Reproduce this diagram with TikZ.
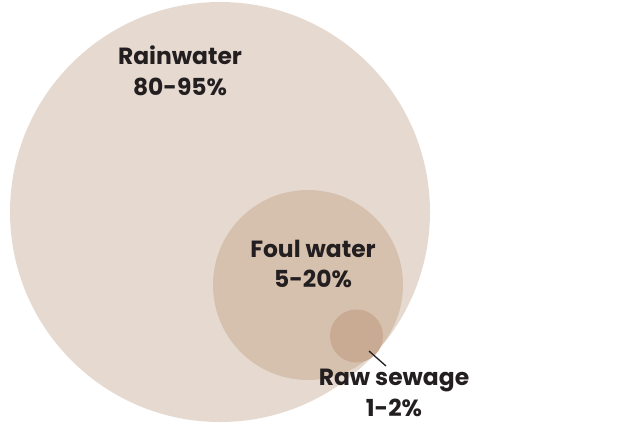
\documentclass[tikz,border=0pt]{standalone}
\usepackage{fontspec}
\setmainfont{Poppins}[BoldFont={Poppins Bold}]
\begin{document}
\begin{tikzpicture}[x=1bp,y=-1bp,
  lbl/.style={font=\bfseries\fontsize{23.5}{31}\selectfont, text=txt, align=center, inner sep=0pt},
  blob/.style={circle, inner sep=0pt, draw=none}]
\definecolor{c1}{HTML}{E6DAD0}
\definecolor{c2}{HTML}{D6C0AE}
\definecolor{c3}{HTML}{C9AB93}
\definecolor{txt}{HTML}{231F20}
\useasboundingbox (0,0) rectangle (640,427);
\node[blob, fill=c1, minimum size=420bp] (rain) at (220,212) {};
\node[blob, fill=c2, minimum size=190bp] (foul) at (308,285) {};
\node[blob, fill=c3, minimum size=53bp] (raw) at (356.5,336) {};
\node[lbl] (rainlbl) at (180,71) {Rainwater\\80-95\%};
\node[lbl] (foullbl) at (313,264) {Foul water\\5-20\%};
\node[lbl] (rawlbl) at (394,393) {Raw sewage\\1-2\%};
\coordinate (p1) at (369,351);
\coordinate (p2) at (386,366);
\draw[txt, line width=1.3bp] (p1) -- (p2);
\end{tikzpicture}
\end{document}
